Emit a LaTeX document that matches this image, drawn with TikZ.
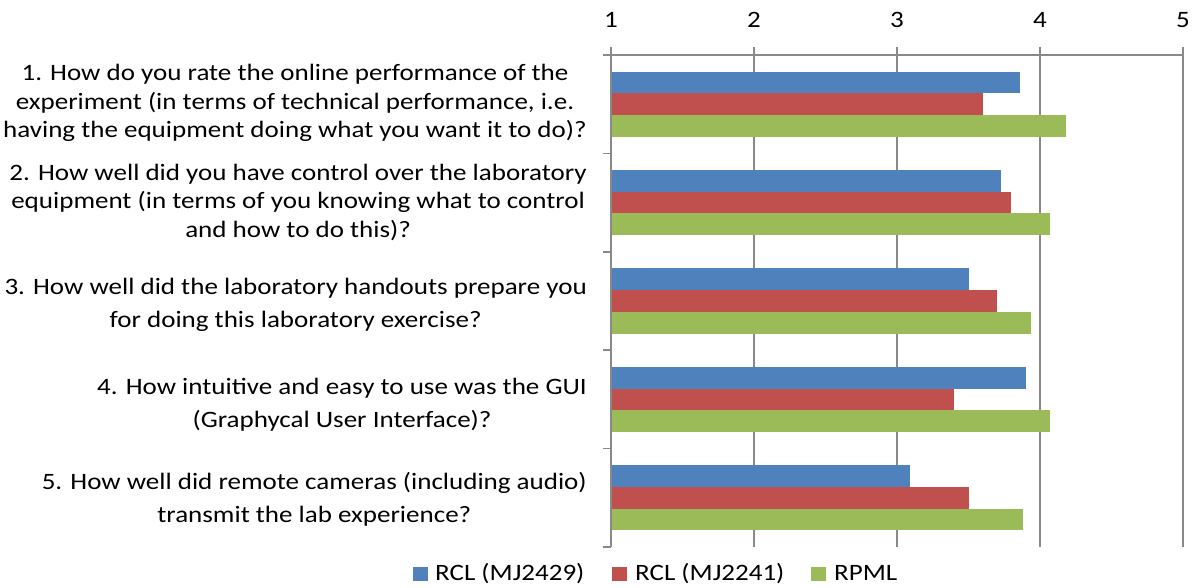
\documentclass[tikz,border=0pt]{standalone}
\usepackage{fontspec}
\setmainfont{Carlito}[FakeStretch=1.15]
\definecolor{sblue}{HTML}{4F81BD}
\definecolor{sred}{HTML}{C0504D}
\definecolor{sgreen}{HTML}{9BBB59}
\definecolor{gridgray}{HTML}{898989}
\begin{document}
\begin{tikzpicture}[x=1pt,y=-1pt,
  gridline/.style={draw=gridgray,line width=1.5pt},
  qlabel/.style={align=center,anchor=east,inner sep=0pt,font=\fontsize{23.5}{28.5}\selectfont},
  qlabeltwo/.style={align=center,anchor=east,inner sep=0pt,font=\fontsize{23.5}{33}\selectfont},
  ticklabel/.style={anchor=base,inner sep=0pt,font=\fontsize{23.5}{27}\selectfont},
  legtext/.style={anchor=base west,inner sep=0pt,font=\fontsize{23.5}{27}\selectfont},
  bar/.style={draw=none}]
\useasboundingbox (0,0) rectangle (1192,588);
% gridlines and ticks
\foreach \k in {1,...,4} {
  \draw[gridline] ({611+143*\k},47) -- ({611+143*\k},547);
}
\draw[gridline] (611,47) -- (611,547);
\draw[gridline] (603,55) -- (1183,55);
\foreach \i in {0,...,5} {
  \draw[gridline] (603,{55+98.4*\i}) -- (611,{55+98.4*\i});
}
% bars
\foreach \i/\a/\b/\c in {0/3.86/3.60/4.18, 1/3.73/3.80/4.07, 2/3.50/3.70/3.94, 3/3.90/3.40/4.07, 4/3.09/3.50/3.88} {
  \pgfmathsetmacro{\t}{55+98.4*\i+16.7}
  \fill[sblue]  (611.8,\t) rectangle ({611+143*(\a-1)},{\t+21.7});
  \fill[sred]   (611.8,{\t+21.7}) rectangle ({611+143*(\b-1)},{\t+43.4});
  \fill[sgreen] (611.8,{\t+43.4}) rectangle ({611+143*(\c-1)},{\t+65.1});
}
% tick labels
\node[ticklabel] (t1) at (611,28) {1};
\node[ticklabel] (t2) at (754,28) {2};
\node[ticklabel] (t3) at (897,28) {3};
\node[ticklabel] (t4) at (1040,28) {4};
\node[ticklabel] (t5) at (1183,28) {5};
% question labels
\node[qlabel] (q1) at (587,103) {1. How do you rate the online performance of the\\experiment (in terms of technical performance, i.e.\\having the equipment doing what you want it to do)?};
\node[qlabel] (q2) at (587,202) {2. How well did you have control over the laboratory\\equipment (in terms of you knowing what to control\\and how to do this)?};
\node[qlabeltwo] (q3) at (587,305) {3. How well did the laboratory handouts prepare you\\for doing this laboratory exercise?};
\node[qlabeltwo] (q4) at (587,405) {4. How intuitive and easy to use was the GUI\\(Graphycal User Interface)?};
\node[qlabeltwo] (q5) at (587,499) {5. How well did remote cameras (including audio)\\transmit the lab experience?};
% legend
\fill[sblue]  (413.3,566.5) rectangle (427.7,580.7);
\node[legtext] (l1) at (435,580.7) {RCL (MJ2429)};
\fill[sred]   (612.3,566.5) rectangle (626.7,580.7);
\node[legtext] (l2) at (635,580.7) {RCL (MJ2241)};
\fill[sgreen] (811,566.5) rectangle (825.5,580.7);
\node[legtext] (l3) at (834,580.7) {RPML};
\end{tikzpicture}
\end{document}
